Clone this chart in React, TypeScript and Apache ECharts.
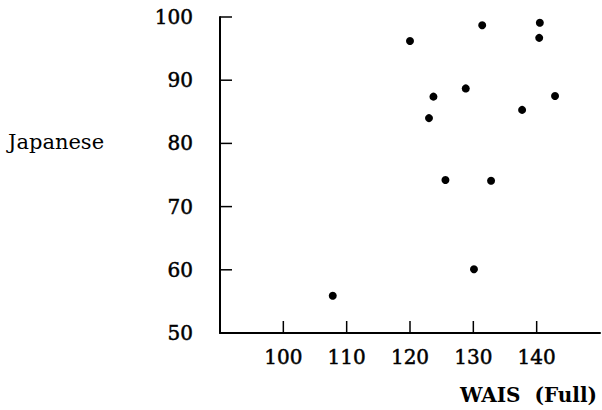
import React, { useEffect, useRef } from "react";
import * as echarts from "echarts";

// WAIS full-scale IQ vs Japanese score
const waisFull = [120.0, 131.4, 140.5, 140.4, 128.8, 123.7, 142.9, 137.7, 123.0, 125.6, 132.8, 130.1, 107.8];
const japanese = [96.2, 98.7, 99.1, 96.7, 88.7, 87.4, 87.5, 85.3, 84.0, 74.2, 74.1, 60.1, 55.9];

const xTicks = [100, 110, 120, 130, 140];
const yTicks = [60, 70, 80, 90, 100];
const yLabels = [50, 60, 70, 80, 90, 100];

const X_MIN = 90;
const Y_MIN = 50;
const FONT = "DejaVu Serif";
const TICK_LEN = 12;

export default function App() {
  const ref = useRef<HTMLDivElement>(null);

  useEffect(() => {
    if (!ref.current) return;
    const chart = echarts.init(ref.current, null, { renderer: "svg" });
    const points = waisFull.map((x, i) => [x, japanese[i]]);

    // inward tick marks drawn on the axis lines
    const tickSeries = (data: number[][], dir: "up" | "right") => ({
      type: "custom",
      clip: false,
      silent: true,
      data,
      renderItem: (_params: any, api: any) => {
        const p = api.coord([api.value(0), api.value(1)]);
        const end = dir === "up" ? [p[0], p[1] - TICK_LEN] : [p[0] + TICK_LEN, p[1]];
        return {
          type: "line",
          shape: { x1: p[0], y1: p[1], x2: end[0], y2: end[1] },
          style: { stroke: "#000", lineWidth: 1.5 },
        };
      },
    });

    const labelStyle = {
      color: "#000",
      fontFamily: FONT,
      fontSize: 20,
      textBorderColor: "#000",
      textBorderWidth: 0.5,
    };

    chart.setOption({
      animation: false,
      backgroundColor: "#ffffff",
      grid: { left: 220, top: 17, right: 2, bottom: 77 },
      xAxis: {
        type: "value",
        min: X_MIN,
        max: 150,
        interval: 10,
        splitLine: { show: false },
        axisLine: { show: true, lineStyle: { color: "#000", width: 2 } },
        axisTick: { show: false },
        axisLabel: { customValues: xTicks, margin: 14, ...labelStyle },
      },
      yAxis: {
        type: "value",
        min: Y_MIN,
        max: 100,
        interval: 10,
        splitLine: { show: false },
        axisLine: { show: true, lineStyle: { color: "#000", width: 2 } },
        axisTick: { show: false },
        axisLabel: { customValues: yLabels, margin: 27, ...labelStyle },
      },
      graphic: [
        {
          type: "text",
          left: 8,
          top: 131,
          style: { text: "Japanese", fill: "#000", font: `21px "${FONT}"` },
        },
        {
          type: "text",
          right: 5,
          top: 385,
          style: { text: "WAIS  (Full)", fill: "#000", font: `bold 20px "${FONT}"` },
        },
      ],
      series: [
        tickSeries(xTicks.map((v) => [v, Y_MIN]), "up"),
        tickSeries(yTicks.map((v) => [X_MIN, v]), "right"),
        {
          type: "scatter",
          data: points,
          symbol: "circle",
          symbolSize: 8,
          itemStyle: { color: "#000", opacity: 1 },
        },
      ],
    });
    return () => chart.dispose();
  }, []);

  return (
    <div
      ref={ref}
      style={{ position: "fixed", left: 0, top: 0, width: 602, height: 410 }}
    />
  );
}
